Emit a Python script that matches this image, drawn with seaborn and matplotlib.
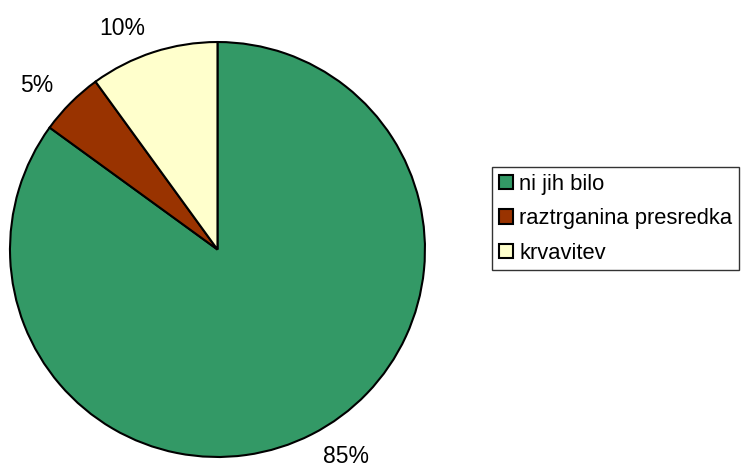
import numpy as np
import pandas as pd
import matplotlib
matplotlib.use("Agg")
import matplotlib.pyplot as plt
from matplotlib.patches import Patch
import seaborn as sns

# data
categories = ['ni jih bilo', 'raztrganina presredka', 'krvavitev']
shares = [85, 5, 10]
colors = ['#339966', '#993300', '#FFFFCC']

sns.set_theme(style='white')
plt.rcParams['font.family'] = ['Liberation Sans', 'DejaVu Sans']
plt.rcParams['text.color'] = 'black'

df = pd.DataFrame({'category': categories, 'share': shares})

fig = plt.figure(figsize=(7.41, 4.73), dpi=100)
ax = fig.add_axes([0.0135, 0.0338, 0.560, 0.8774])

wedges, texts = ax.pie(df['share'], colors=colors, startangle=90, counterclock=False,
                       labels=[f'{v}%' for v in df['share']], labeldistance=1.12,
                       wedgeprops=dict(edgecolor='black', linewidth=1.5),
                       textprops=dict(fontsize=16.5, color='black'))
ax.set_aspect('equal')
ax.set_xlim(-1, 1)
ax.set_ylim(-1, 1)
ax.axis('off')

handles = [Patch(facecolor=c, edgecolor='black', linewidth=1.5) for c in colors]
leg = fig.legend(handles, categories, loc='upper left',
                 bbox_to_anchor=(492 / 741, 1 - 167 / 473),
                 fontsize=15.8, frameon=True, fancybox=False,
                 handlelength=0.65, handleheight=0.65, handletextpad=0.3,
                 labelspacing=0.62, borderpad=0.3, borderaxespad=0,
                 labelcolor='black')
leg.get_frame().set_edgecolor('black')
leg.get_frame().set_linewidth(1)

fig.savefig('out.png', dpi=100)
